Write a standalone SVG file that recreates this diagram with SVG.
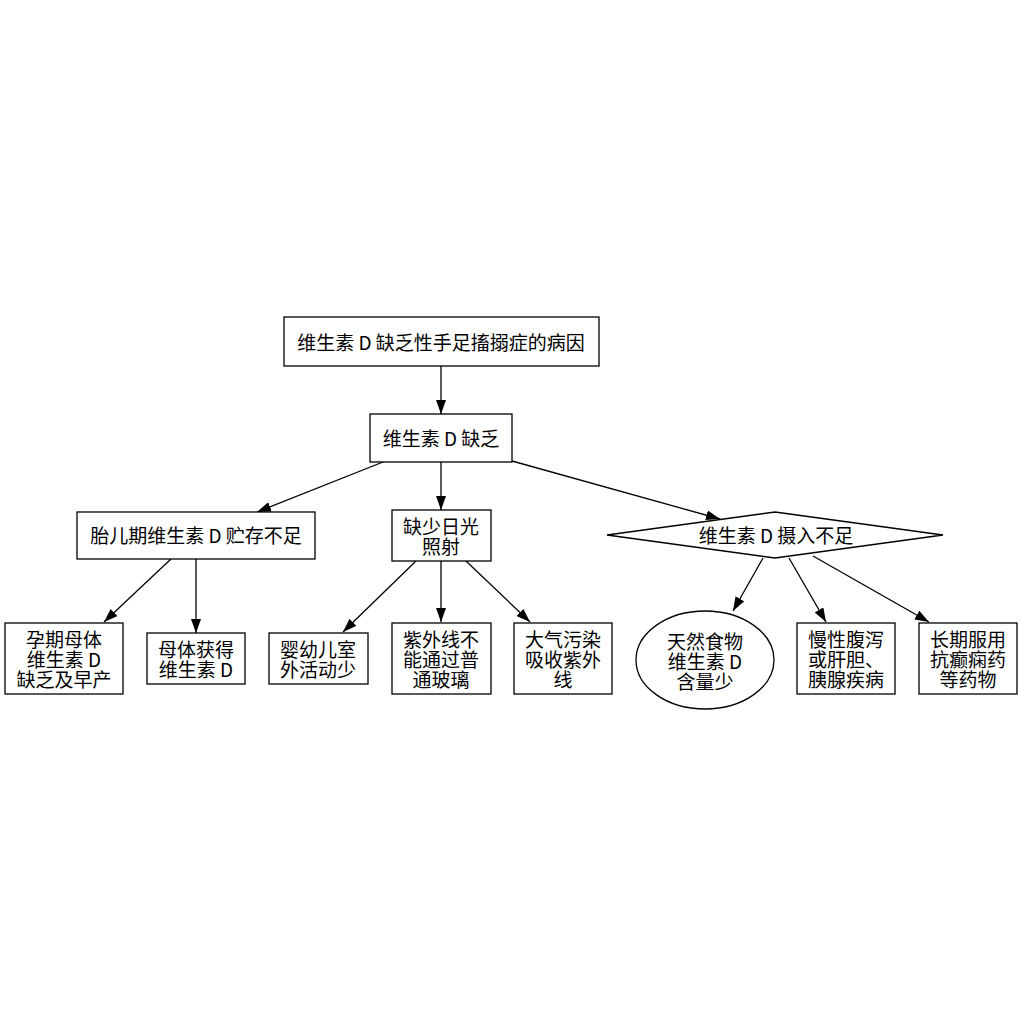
<svg xmlns="http://www.w3.org/2000/svg" width="1027" height="1027" viewBox="0 0 1027 1027">
<defs>
<style>
.n{fill:#fff;stroke:#000;stroke-width:1.3}
.t{font-family:"Noto Sans CJK SC","Noto Sans",sans-serif;font-size:19px;fill:#000;text-anchor:middle;dominant-baseline:central}
.e{fill:none;stroke:#000;stroke-width:1.3;marker-end:url(#ah)}
</style>
<marker id="ah" viewBox="0 0 14 10" refX="14" refY="5" markerWidth="14" markerHeight="10" markerUnits="userSpaceOnUse" orient="auto">
<path d="M0,0 L14,5 L0,10 z" fill="#000"/>
</marker>
</defs>
<rect width="1027" height="1027" fill="#fff"/>
<g id="edges">
<line class="e" x1="441" y1="366" x2="441" y2="414"/>
<line class="e" x1="383" y1="462" x2="257" y2="512"/>
<line class="e" x1="441" y1="462" x2="441" y2="510"/>
<line class="e" x1="512" y1="461" x2="720" y2="519"/>
<line class="e" x1="171" y1="559" x2="104" y2="622"/>
<line class="e" x1="196" y1="559" x2="196" y2="633"/>
<line class="e" x1="416" y1="561" x2="343" y2="632"/>
<line class="e" x1="441" y1="561" x2="441" y2="622"/>
<line class="e" x1="466" y1="561" x2="530" y2="622"/>
<line class="e" x1="763" y1="558" x2="733" y2="611"/>
<line class="e" x1="789" y1="558" x2="826" y2="622"/>
<line class="e" x1="813" y1="556" x2="929" y2="622"/>
</g>
<g id="root">
<rect class="n" x="284" y="317" width="315" height="49"/>
<text class="t" x="441" y="341">维生素 D 缺乏性手足搐搦症的病因</text>
</g>
<g id="n_lack">
<rect class="n" x="370" y="414" width="142" height="48"/>
<text class="t" x="441" y="437">维生素 D 缺乏</text>
</g>
<g id="n_fetal">
<rect class="n" x="77" y="512" width="238" height="47"/>
<text class="t" x="196" y="534">胎儿期维生素 D 贮存不足</text>
</g>
<g id="n_sun">
<rect class="n" x="392" y="510" width="99" height="51"/>
<text class="t" x="441" y="525">缺少日光<tspan x="441" dy="20">照射</tspan></text>
</g>
<g id="n_intake">
<polygon class="n" points="775,512 943,535 775,558 607,535"/>
<text class="t" x="776" y="534">维生素 D 摄入不足</text>
</g>
<g id="n_preg">
<rect class="n" x="5" y="623" width="118" height="71"/>
<text class="t" x="64" y="638">孕期母体<tspan x="64" dy="20">维生素 D</tspan><tspan x="64" dy="20">缺乏及早产</tspan></text>
</g>
<g id="n_mother">
<rect class="n" x="147" y="633" width="98" height="51"/>
<text class="t" x="196" y="648">母体获得<tspan x="196" dy="20">维生素 D</tspan></text>
</g>
<g id="n_infant">
<rect class="n" x="269" y="633" width="99" height="51"/>
<text class="t" x="318" y="648">婴幼儿室<tspan x="318" dy="20">外活动少</tspan></text>
</g>
<g id="n_uv">
<rect class="n" x="392" y="623" width="99" height="71"/>
<text class="t" x="441" y="638">紫外线不<tspan x="441" dy="20">能通过普</tspan><tspan x="441" dy="20">通玻璃</tspan></text>
</g>
<g id="n_air">
<rect class="n" x="514" y="623" width="98" height="71"/>
<text class="t" x="563" y="638">大气污染<tspan x="563" dy="20">吸收紫外</tspan><tspan x="563" dy="20">线</tspan></text>
</g>
<g id="n_food">
<ellipse class="n" cx="705" cy="660" rx="69" ry="49"/>
<text class="t" x="705" y="640">天然食物<tspan x="705" dy="20">维生素 D</tspan><tspan x="705" dy="20">含量少</tspan></text>
</g>
<g id="n_chronic">
<rect class="n" x="797" y="623" width="98" height="71"/>
<text class="t" x="846" y="638">慢性腹泻<tspan x="846" dy="20">或肝胆、</tspan><tspan x="846" dy="20">胰腺疾病</tspan></text>
</g>
<g id="n_drug">
<rect class="n" x="919" y="623" width="98" height="71"/>
<text class="t" x="968" y="638">长期服用<tspan x="968" dy="20">抗癫痫药</tspan><tspan x="968" dy="20">等药物</tspan></text>
</g>
</svg>
